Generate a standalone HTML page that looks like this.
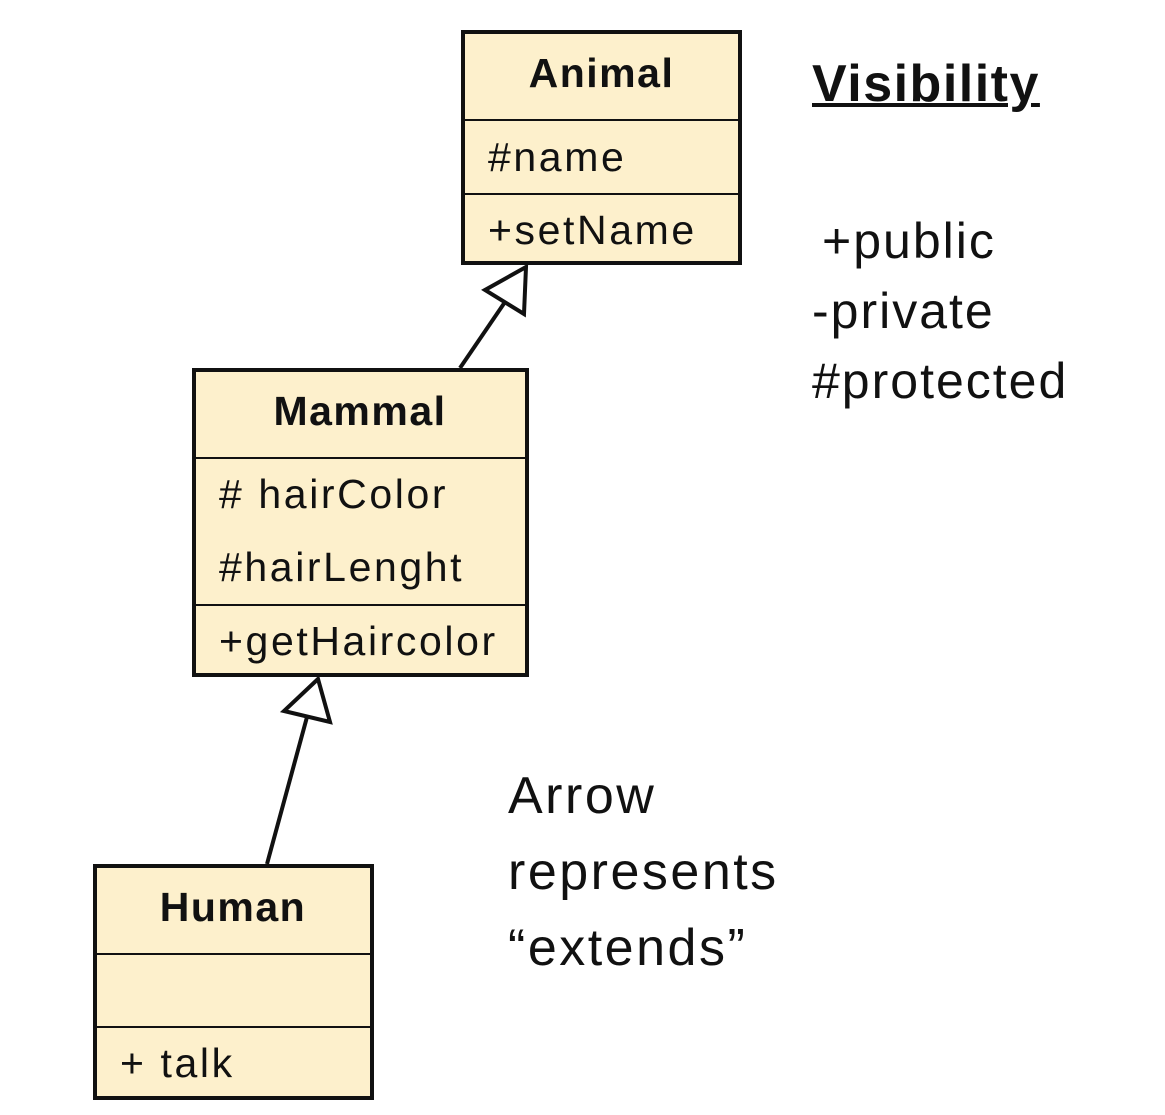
<!DOCTYPE html>
<html><head><meta charset="utf-8"><style>
body{margin:0;width:1165px;height:1115px;background:#fff;position:relative;overflow:hidden;font-family:"Liberation Sans",sans-serif;}
.t{position:absolute;white-space:nowrap;color:#111;}
.b{font-size:41px;letter-spacing:2.6px}
.h{font-size:41px;font-weight:bold;letter-spacing:1.5px}
</style></head><body>
<svg width="1165" height="1115" style="position:absolute;left:0;top:0">
<g stroke="#111" fill="#fdf0cc">
<rect x="463" y="32" width="277" height="231" stroke-width="4"/>
<line x1="463" y1="120" x2="740" y2="120" stroke-width="2"/>
<line x1="463" y1="194" x2="740" y2="194" stroke-width="2"/>
<rect x="194" y="370" width="333" height="305" stroke-width="4"/>
<line x1="194" y1="458" x2="527" y2="458" stroke-width="2"/>
<line x1="194" y1="605" x2="527" y2="605" stroke-width="2"/>
<rect x="95" y="866" width="277" height="232" stroke-width="4"/>
<line x1="95" y1="954" x2="372" y2="954" stroke-width="2"/>
<line x1="95" y1="1027" x2="372" y2="1027" stroke-width="2"/>
</g>
<g stroke="#111" stroke-width="4" fill="#fff">
<line x1="460" y1="368" x2="505" y2="302"/>
<polygon points="526,267 485,290 524,314"/>
<line x1="267" y1="864" x2="307" y2="717"/>
<polygon points="318,679 284,711 330,722"/>
</g>
</svg>
<div class="t h" style="left:461px;width:281px;text-align:center;top:50px">Animal</div>
<div class="t b" style="left:488px;top:134px">#name</div>
<div class="t b" style="left:488px;top:207px">+setName</div>
<div class="t h" style="left:192px;width:336px;text-align:center;top:388px">Mammal</div>
<div class="t b" style="left:219px;top:471px"># hairColor</div>
<div class="t b" style="left:219px;top:544px">#hairLenght</div>
<div class="t b" style="left:219px;top:618px">+getHaircolor</div>
<div class="t h" style="left:93px;width:280px;text-align:center;top:884px">Human</div>
<div class="t b" style="left:120px;top:1040px">+ talk</div>
<div class="t" style="left:812px;top:54px;font-size:52px;letter-spacing:1.5px;font-weight:bold;text-decoration:underline;text-decoration-thickness:4px">Visibility</div>
<div class="t" style="left:822px;top:206px;font-size:50px;letter-spacing:2px;line-height:70px">+public<br><span style="margin-left:-10px">-private</span><br><span style="margin-left:-10px">#protected</span></div>
<div class="t" style="left:508px;top:758px;font-size:52px;letter-spacing:2.5px;line-height:76px">Arrow<br>represents<br>“extends”</div>
</body></html>
